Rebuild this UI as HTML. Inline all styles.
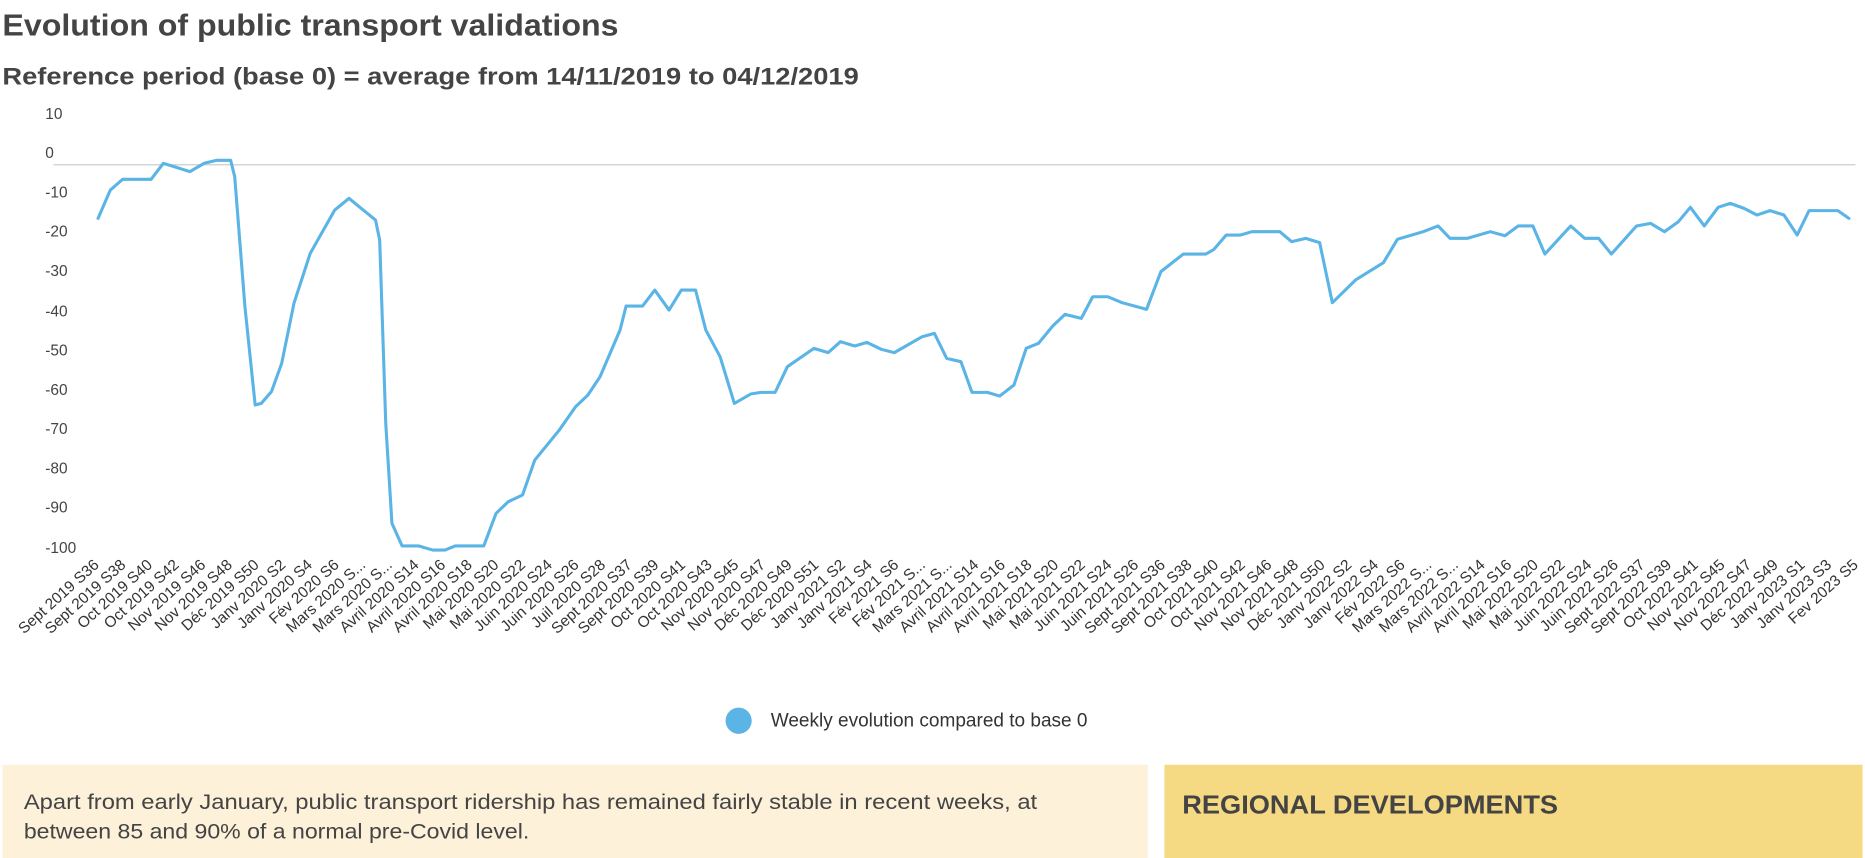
<!DOCTYPE html>
<html><head><meta charset="utf-8"><style>html,body{margin:0;padding:0;background:#fff}svg{display:block}</style></head>
<body>
<svg width="1865" height="858" viewBox="0 0 1568 721.4" xmlns="http://www.w3.org/2000/svg" font-family="Liberation Sans, sans-serif">
<text x="2" y="30" font-size="26" font-weight="bold" fill="#444" textLength="518" lengthAdjust="spacingAndGlyphs">Evolution of public transport validations</text>
<text x="2" y="71" font-size="20" font-weight="bold" fill="#444" textLength="720" lengthAdjust="spacingAndGlyphs">Reference period (base 0) = average from 14/11/2019 to 04/12/2019</text>
<g font-size="13" fill="#444">
<text x="38" y="100">10</text><text x="38" y="133">0</text><text x="38" y="166">-10</text><text x="38" y="199">-20</text><text x="38" y="232">-30</text><text x="38" y="266">-40</text><text x="38" y="299">-50</text><text x="38" y="332">-60</text><text x="38" y="365">-70</text><text x="38" y="398">-80</text><text x="38" y="431">-90</text><text x="38" y="465">-100</text>
</g>
<line x1="45" y1="138.5" x2="1560" y2="138.5" stroke="#d4d4d4" stroke-width="1.2"/>
<polyline fill="none" stroke="#5ab4e5" stroke-width="2.6" stroke-linejoin="round" stroke-linecap="round" points="82.4,183.6 92.7,159.8 103,150.8 127,150.8 137.3,137.3 159.6,144.3 171.6,137.3 181.9,134.8 193.9,134.8 197.3,148.5 205.9,257.9 214.5,340.5 219.6,339.2 228.2,329.3 236.8,305.5 247.1,255.1 260.8,213 281.4,176.6 293.4,166.8 305.4,176.6 315.7,185 319.2,201.8 324.3,356 329.5,440 338,459 351.8,459 363.8,462.5 374.1,462.5 382.7,459 406.7,459 417,431.7 427.3,421.8 439.3,416.2 449.6,386.8 470.2,361.6 483.9,342 494.2,332.2 504.5,316.7 516.5,288.7 521.3,277.5 526.4,257.3 540.2,257.3 550.5,243.9 562.5,260.7 572.8,243.9 584.8,243.9 593.4,277.5 605.4,299.9 617.4,339.2 631.1,331.3 639.7,329.9 651.7,329.9 662,308.3 684.3,292.9 696.3,296.5 706.6,287.3 718.6,290.9 728.9,287.9 740.9,293.7 751.9,296.5 775.3,283.1 785.6,280.3 795.9,301.3 807.9,304.1 817.2,329.9 830.2,329.9 840.5,333 852.5,323.7 862.8,292.9 873.1,288.7 885.1,274.1 895.4,264.3 909.1,267.7 918.7,249.5 931.4,249.5 943.4,254.5 964,260.1 976,228.4 994.9,213.6 1013.8,213.6 1020.6,209.7 1031,197.6 1043,197.6 1052.6,194.8 1076,194.8 1086,203.2 1097.8,200.4 1109.5,204 1120.2,254.5 1139.7,235.4 1163.1,220.9 1174.9,201.2 1196.6,194.8 1209.1,190 1219.1,200.4 1233.5,200.4 1253,194.8 1265.3,198.2 1276.4,190 1288.8,190 1298.9,213.6 1320.6,190 1332.4,200.4 1344.1,200.4 1354.8,213.6 1375.9,190 1387.7,187.8 1399.4,194.8 1411.1,186.4 1421.2,174.3 1432.9,190 1444.6,174.3 1454.7,171 1466.4,175.2 1477.1,180.8 1488.2,177.1 1499.9,180.8 1511,197.6 1521,177.1 1545.2,177.1 1554.5,183.6"/>
<g id="xl" font-size="13" fill="#333" text-anchor="end"></g>
<circle cx="621" cy="606" r="11" fill="#5ab4e5"/>
<text x="648" y="611" font-size="16" fill="#333">Weekly evolution compared to base 0</text>
<rect x="2" y="643" width="963" height="80" fill="#fdf1da"/>
<text x="20" y="680" font-size="18" fill="#444" textLength="852" lengthAdjust="spacingAndGlyphs">Apart from early January, public transport ridership has remained fairly stable in recent weeks, at</text>
<text x="20" y="705" font-size="18" fill="#444" textLength="425" lengthAdjust="spacingAndGlyphs">between 85 and 90% of a normal pre-Covid level.</text>
<rect x="979" y="643" width="587" height="80" fill="#f6d983"/>
<text x="994" y="684" font-size="22" font-weight="bold" fill="#444" textLength="316" lengthAdjust="spacingAndGlyphs">REGIONAL DEVELOPMENTS</text>
</svg>
<script>
var L=["Sept 2019 S36","Sept 2019 S38","Oct 2019 S40","Oct 2019 S42","Nov 2019 S46","Nov 2019 S48","Déc 2019 S50","Janv 2020 S2","Janv 2020 S4","Fév 2020 S6","Mars 2020 S...","Mars 2020 S...","Avril 2020 S14","Avril 2020 S16","Avril 2020 S18","Mai 2020 S20","Mai 2020 S22","Juin 2020 S24","Juin 2020 S26","Juil 2020 S28","Sept 2020 S37","Sept 2020 S39","Oct 2020 S41","Oct 2020 S43","Nov 2020 S45","Nov 2020 S47","Déc 2020 S49","Déc 2020 S51","Janv 2021 S2","Janv 2021 S4","Fév 2021 S6","Fév 2021 S...","Mars 2021 S...","Avril 2021 S14","Avril 2021 S16","Avril 2021 S18","Mai 2021 S20","Mai 2021 S22","Juin 2021 S24","Juin 2021 S26","Sept 2021 S36","Sept 2021 S38","Oct 2021 S40","Oct 2021 S42","Nov 2021 S46","Nov 2021 S48","Déc 2021 S50","Janv 2022 S2","Janv 2022 S4","Fév 2022 S6","Mars 2022 S...","Mars 2022 S...","Avril 2022 S14","Avril 2022 S16","Mai 2022 S20","Mai 2022 S22","Juin 2022 S24","Juin 2022 S26","Sept 2022 S37","Sept 2022 S39","Oct 2022 S41","Nov 2022 S45","Nov 2022 S47","Déc 2022 S49","Janv 2023 S1","Janv 2023 S3","Fev 2023 S5"];
var g=document.getElementById('xl'),n=L.length,h="";
for(var i=0;i<n;i++){var x=84+i*(1563-84)/(n-1),y=476;h+='<text x="'+x.toFixed(1)+'" y="'+y+'" transform="rotate(-42 '+x.toFixed(1)+' '+y+')">'+L[i]+'</text>';}
g.innerHTML=h;
</script>
</body></html>
